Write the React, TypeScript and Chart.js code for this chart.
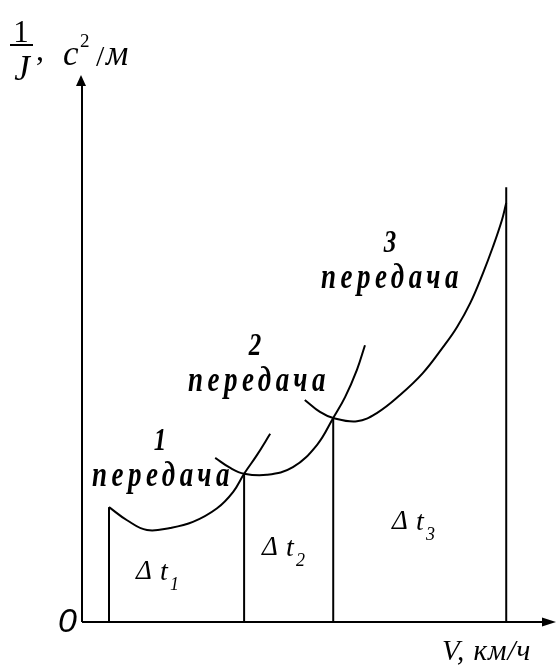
import React, { useEffect, useRef } from "react";
import { Chart, registerables } from "chart.js";

Chart.register(...registerables);

// Axis ranges (arbitrary units, as on the schematic)
const V_MAX = 100;
const INV_J_MAX = 100;

// Gear curves 1/J(V)
const gear1V = [5.7, 9.5, 13.7, 18.6, 23.4, 28.5, 31.9, 34.2, 36.9, 39.7];
const gear1InvJ = [21.0, 18.6, 16.8, 17.2, 18.3, 20.8, 23.8, 27.1, 30.5, 34.4];
const gear2V = [28.1, 31.2, 34.2, 39.0, 44.5, 49.6, 53.0, 55.5, 58.0, 59.7];
const gear2InvJ = [30.0, 28.2, 27.1, 26.9, 28.3, 32.4, 37.3, 41.1, 46.1, 50.6];
const gear3V = [47.0, 50.2, 53.0, 58.0, 62.2, 67.1, 71.9, 76.2, 79.1, 81.9, 84.6, 86.7, 88.6, 89.5];
const gear3InvJ = [40.6, 38.4, 37.3, 36.7, 38.2, 41.5, 45.5, 50.3, 53.9, 58.3, 63.8, 68.6, 73.5, 76.6];

// Vertical boundaries (shift points)
const boundaryV = [5.7, 34.2, 53.0, 89.5];
const boundaryTop = [21.0, 27.1, 37.3, 79.5];

// Texts
const gearNumbers = ["1", "2", "3"];
const gearWord = "передача";
const intervalSubs = ["1", "2", "3"];
const xAxisTitle = "V, км/ч";
const originLabel = "0";

const SERIF = '"Liberation Serif", "Times New Roman", serif';
const SANS = '"Liberation Sans", Arial, sans-serif';

function pts(xs: number[], ys: number[]) {
  return xs.map((x, i) => ({ x, y: ys[i] }));
}

type TProps = {
  x: number;
  y: number; // baseline
  size: number;
  text: string;
  family?: string;
  italic?: boolean;
  bold?: boolean;
  center?: boolean;
  sy?: number;
  ls?: number;
  k?: number;
};

function T({ x, y, size, text, family = SERIF, italic, bold, center, sy = 1, ls = 0, k = 0.8375 }: TProps) {
  return (
    <span
      style={{
        position: "absolute",
        left: x,
        top: y - k * size,
        fontSize: size,
        lineHeight: `${size}px`,
        fontFamily: family,
        fontStyle: italic ? "italic" : "normal",
        fontWeight: bold ? "bold" : "normal",
        whiteSpace: "nowrap",
        letterSpacing: ls,
        color: "#000",
        transform: `${center ? "translateX(-50%) " : ""}scaleY(${sy})`,
        transformOrigin: `50% ${k * size}px`,
      }}
    >
      {text}
    </span>
  );
}

const axesPlugin = {
  id: "axesArrows",
  afterDraw(chart: any) {
    const { ctx, scales } = chart;
    const xs = scales.x;
    const ys = scales.y;
    const x0 = xs.getPixelForValue(0);
    const y0 = ys.getPixelForValue(0);
    const xEnd = xs.getPixelForValue(V_MAX);
    const yEnd = ys.getPixelForValue(INV_J_MAX);

    ctx.save();
    ctx.strokeStyle = "#000";
    ctx.fillStyle = "#000";
    ctx.lineWidth = 2;
    ctx.beginPath();
    ctx.moveTo(x0, y0);
    ctx.lineTo(x0, yEnd + 8);
    ctx.stroke();
    ctx.beginPath();
    ctx.moveTo(x0 - 1, yEnd);
    ctx.lineTo(x0 - 6, yEnd + 11);
    ctx.lineTo(x0 + 4, yEnd + 11);
    ctx.closePath();
    ctx.fill();
    ctx.beginPath();
    ctx.moveTo(x0, y0);
    ctx.lineTo(xEnd - 8, y0);
    ctx.stroke();
    ctx.beginPath();
    ctx.moveTo(xEnd, y0);
    ctx.lineTo(xEnd - 14, y0 - 4.5);
    ctx.lineTo(xEnd - 14, y0 + 4.5);
    ctx.closePath();
    ctx.fill();
    ctx.restore();
  },
};

export default function App() {
  const ref = useRef<HTMLCanvasElement | null>(null);

  useEffect(() => {
    if (!ref.current) return;
    const curveStyle = {
      borderColor: "#000",
      borderWidth: 2,
      pointRadius: 0,
      fill: false,
      tension: 0.4,
      clip: false as any,
    };
    const verticals = boundaryV.map((v, i) => ({
      data: [
        { x: v, y: 0 },
        { x: v, y: boundaryTop[i] },
      ],
      borderColor: "#000",
      borderWidth: 2,
      pointRadius: 0,
      fill: false,
      tension: 0,
      clip: false as any,
    }));
    const chart = new Chart(ref.current, {
      type: "line",
      data: {
        datasets: [
          { ...curveStyle, data: pts(gear1V, gear1InvJ) },
          { ...curveStyle, data: pts(gear2V, gear2InvJ) },
          { ...curveStyle, data: pts(gear3V, gear3InvJ) },
          ...verticals,
        ] as any,
      },
      options: {
        animation: false,
        responsive: false,
        maintainAspectRatio: false,
        layout: { padding: { left: 82, right: 0, top: 75, bottom: 46 } },
        plugins: {
          legend: { display: false },
          tooltip: { enabled: false },
          title: { display: false },
        },
        events: [],
        scales: {
          x: { type: "linear", min: 0, max: V_MAX, display: false },
          y: { type: "linear", min: 0, max: INV_J_MAX, display: false },
        },
      },
      plugins: [axesPlugin],
    });
    return () => chart.destroy();
  }, []);

  const gearPos = [
    { cx: 163, dx: 160, db: 450, wb: 487 },
    { cx: 259, dx: 255, db: 355, wb: 392 },
    { cx: 392, dx: 390, db: 252, wb: 289 },
  ];
  const dtPos = [
    { x: 136, b: 580 },
    { x: 262, b: 556 },
    { x: 392, b: 530 },
  ];

  return (
    <div
      style={{
        position: "fixed",
        left: 0,
        top: 0,
        width: 556,
        height: 668,
        background: "#fff",
        overflow: "hidden",
      }}
    >
      <canvas ref={ref} width={556} height={668} style={{ display: "block" }} />

      {/* y-axis title: 1/J, c²/м */}
      <T x={21} y={42} size={31} text="1" center />
      <div style={{ position: "absolute", left: 10, top: 44, width: 23, height: 1.6, background: "#000" }} />
      <T x={22} y={80} size={35} text="J" italic center />
      <T x={36} y={60} size={32} text="," />
      <T x={63} y={65} size={35} text="c" italic />
      <T x={80} y={47} size={19} text="2" />
      <T x={96} y={66} size={30} text="/" />
      <T x={106} y={65} size={35} text="м" italic />

      {/* x-axis title */}
      <T x={442} y={660} size={29} text={xAxisTitle} italic ls={1} />

      {/* origin */}
      <T x={58} y={632} size={34} text={originLabel} italic family={SANS} k={0.8465} />

      {/* gear labels */}
      {gearPos.map((p, i) => (
        <React.Fragment key={"g" + i}>
          <T x={p.dx} y={p.db} size={25} text={gearNumbers[i]} bold italic center sy={1.3} />
          <T x={p.cx} y={p.wb} size={27} text={gearWord} bold italic center sy={1.3} ls={4.5} />
        </React.Fragment>
      ))}

      {/* Δt labels */}
      {dtPos.map((p, i) => (
        <React.Fragment key={"d" + i}>
          <T x={p.x} y={p.b} size={27} text="Δ" italic />
          <T x={p.x + 24} y={p.b} size={28} text="t" italic />
          <T x={p.x + 34} y={p.b + 10} size={18} text={intervalSubs[i]} italic />
        </React.Fragment>
      ))}
    </div>
  );
}
